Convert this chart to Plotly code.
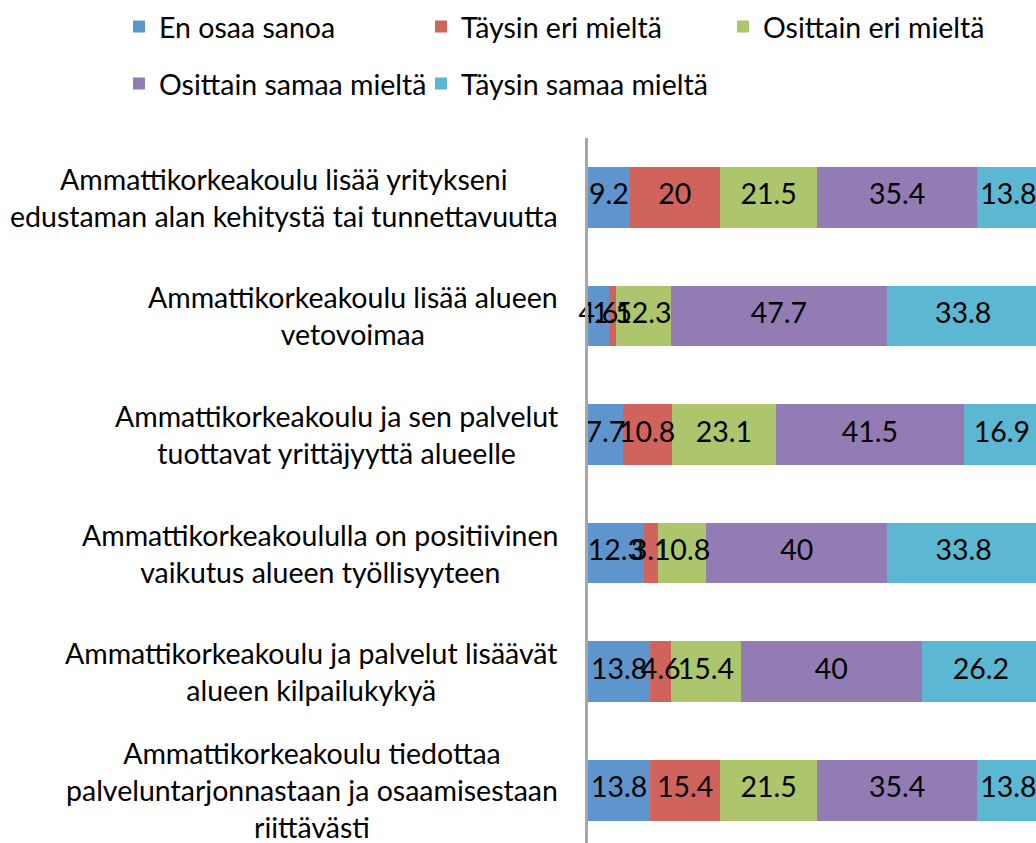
import plotly.graph_objects as go

categories = [
    "Ammattikorkeakoulu lisää yritykseni<br>edustaman alan kehitystä tai tunnettavuutta",
    "Ammattikorkeakoulu lisää alueen<br>vetovoimaa",
    "Ammattikorkeakoulu ja sen palvelut<br>tuottavat yrittäjyyttä alueelle",
    "Ammattikorkeakoululla on positiivinen<br>vaikutus alueen työllisyyteen",
    "Ammattikorkeakoulu ja palvelut lisäävät<br>alueen kilpailukykyä",
    "Ammattikorkeakoulu tiedottaa<br>palveluntarjonnastaan ja osaamisestaan<br>riittävästi",
]
series_names = ["En osaa sanoa", "Täysin eri mieltä", "Osittain eri mieltä",
                "Osittain samaa mieltä", "Täysin samaa mieltä"]
en_osaa_sanoa = [9.2, 4.6, 7.7, 12.3, 13.8, 13.8]
taysin_eri = [20, 1.5, 10.8, 3.1, 4.6, 15.4]
osittain_eri = [21.5, 12.3, 23.1, 10.8, 15.4, 21.5]
osittain_samaa = [35.4, 47.7, 41.5, 40, 40, 35.4]
taysin_samaa = [13.8, 33.8, 16.9, 33.8, 26.2, 13.8]
series_values = [en_osaa_sanoa, taysin_eri, osittain_eri, osittain_samaa, taysin_samaa]
colors = ["#5E95CD", "#D0635C", "#ADC56C", "#937BB3", "#5CB8D2"]

FONT = "Lato, 'Noto Sans', sans-serif"
FS = 28.5
W, H = 1036, 843
L, T = 588, 138
PW, PH = W - L, H - T

fig = go.Figure()
for i, (name, vals, col) in enumerate(zip(series_names, series_values, colors)):
    fig.add_trace(go.Bar(
        name=name, y=categories, x=vals, orientation="h",
        marker=dict(color=col, line=dict(width=0)),
        legend="legend" if i < 3 else "legend2",
    ))

# data labels drawn above all bars (like the original), at segment centres
lab_x, lab_y, lab_t = [], [], []
for r, cat in enumerate(categories):
    cum = 0.0
    for vals in series_values:
        v = vals[r]
        lab_x.append(cum + v / 2)
        lab_y.append(cat)
        lab_t.append(f"{v:g}")
        cum += v
fig.add_trace(go.Scatter(
    x=lab_x, y=lab_y, text=lab_t, mode="text", textposition="middle center",
    textfont=dict(family=FONT, size=FS, color="black"),
    showlegend=False, hoverinfo="skip", cliponaxis=False,
))

for c in categories:
    fig.add_annotation(
        x=0, xref="paper", y=c, yref="y", xanchor="right", yanchor="middle",
        xshift=-28, text=c, showarrow=False, align="center",
        font=dict(family=FONT, size=FS, color="black"),
    )

unit = 118.6
leg_common = dict(orientation="h", xref="paper", yref="paper",
                  xanchor="left", yanchor="middle",
                  entrywidth=257, entrywidthmode="pixels",
                  font=dict(family=FONT, size=FS, color="black"),
                  traceorder="normal", itemclick=False)
fig.update_layout(
    width=W, height=H, barmode="stack", bargap=0.49,
    margin=dict(l=L, r=0, t=T, b=0, autoexpand=False),
    plot_bgcolor="white", paper_bgcolor="white",
    xaxis=dict(range=[0, PW / 4.52], visible=False, fixedrange=True),
    yaxis=dict(categoryorder="array", categoryarray=categories,
               range=[-0.5 + PH / unit, -0.5], showticklabels=False,
               showline=True, linecolor="#A6A6A6", linewidth=3, ticks="",
               showgrid=False, zeroline=False),
    legend=dict(x=(119 - L) / PW, y=(H - 27) / PH, **leg_common),
    legend2=dict(x=(119 - L) / PW, y=(H - 84) / PH, **leg_common),
    showlegend=True,
)
fig.write_html("out.html", config={"displayModeBar": False},
               post_script="document.body.style.margin='0';document.body.style.overflow='hidden';")
